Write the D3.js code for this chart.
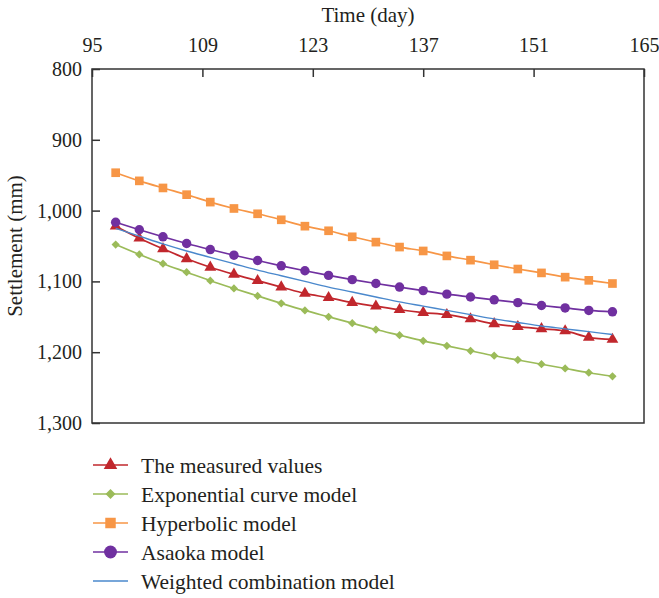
<!DOCTYPE html>
<html><head><meta charset="utf-8">
<script src="https://cdn.jsdelivr.net/npm/d3@7"></script>
<style>body{margin:0;background:#fff}svg text{font-family:"Liberation Serif","Times New Roman","DejaVu Serif",serif;fill:#231f20}</style>
</head><body><svg id="c" width="659" height="598"></svg>
<script>
const days = [98,101,104,107,110,113,116,119,122,125,128,131,134,137,140,143,146,149,152,155,158,161];
const measured = [1022,1039,1054,1068,1080,1090,1099,1108,1117,1123,1130,1135,1140,1144,1147,1153,1160,1164,1167,1170,1179,1182];
const exponential = [1048,1062,1075,1087,1099,1110,1120.5,1131,1141,1150,1159,1168,1176,1184,1191,1198,1205,1211,1217,1223,1229,1234];
const hyperbolic = [946.5,958,968,977.5,988,997,1004.5,1013,1022,1028.5,1037,1044.5,1051.5,1057,1064,1070,1076.5,1082.5,1088,1094,1098.5,1103];
const asaoka = [1016.5,1027,1037,1046.5,1055,1063,1070.5,1078,1085,1091.5,1097.5,1103,1108,1113,1118,1122,1126,1130,1134,1137.5,1141,1143];
const weighted = [1025,1036,1047,1057,1066,1075,1084,1092,1100,1108,1115,1122,1129,1135,1141,1147,1153,1158,1163,1167,1171,1175];
const xTicks = [95,109,123,137,151,165];
const yTicks = [800,900,1000,1100,1200,1300];
const seriesNames = ["The measured values","Exponential curve model","Hyperbolic model","Asaoka model","Weighted combination model"];

const series = [
  {name:seriesNames[0], vals:measured, color:"#c1272d", sym:d3.symbolTriangle, size:60, lsize:80, rot:0},
  {name:seriesNames[1], vals:exponential, color:"#9bbb59", sym:d3.symbolSquare, size:34, lsize:50, rot:45},
  {name:seriesNames[2], vals:hyperbolic, color:"#f79646", sym:d3.symbolSquare, size:75, lsize:110, rot:0},
  {name:seriesNames[3], vals:asaoka, color:"#7030a0", sym:d3.symbolCircle, size:70, lsize:130, rot:0},
  {name:seriesNames[4], vals:weighted, color:"#4a88cc", sym:null}
];

const svg = d3.select("#c");
const L=92,R=644,T=69,B=423;
const x = d3.scaleLinear().domain([95,165]).range([L,R]);
const y = d3.scaleLinear().domain([800,1300]).range([T,B]);

svg.append("rect").attr("x",L).attr("y",T).attr("width",R-L).attr("height",B-T)
  .attr("fill","none").attr("stroke","#333").attr("stroke-width",1.5);

const xa = svg.append("g").attr("transform",`translate(0,${T})`)
  .call(d3.axisTop(x).tickValues(xTicks).tickSize(-8).tickPadding(17).tickFormat(d3.format("d")));
const ya = svg.append("g").attr("transform",`translate(${L},0)`)
  .call(d3.axisLeft(y).tickValues(yTicks).tickSize(-8).tickPadding(10).tickFormat(d3.format(",")));
[xa,ya].forEach(a=>{a.attr("font-family",null).attr("font-size",null);
  a.select(".domain").remove();
  a.selectAll("line").attr("stroke","#333").attr("stroke-width",1.5);
  a.selectAll("text").attr("font-size",20).attr("fill","#231f20");});

svg.append("text").attr("x",(L+R)/2).attr("y",22).attr("text-anchor","middle").attr("font-size",21).text("Time (day)");
svg.append("text").attr("transform",`translate(22,${(T+B)/2}) rotate(-90)`).attr("text-anchor","middle").attr("font-size",21).text("Settlement (mm)");

const line = d3.line().x((d,i)=>x(days[i])).y(d=>y(d)).curve(d3.curveMonotoneX);
series.forEach(s=>{
  svg.append("path").datum(s.vals).attr("d",line).attr("fill","none").attr("stroke",s.color).attr("stroke-width",s.sym?1.7:1.4);
  if(s.sym){
    svg.selectAll(null).data(s.vals).enter().append("path")
      .attr("d",d3.symbol().type(s.sym).size(s.size))
      .attr("transform",(d,i)=>`translate(${x(days[i])},${y(d)}) rotate(${s.rot})`).attr("fill",s.color);
  }
});

const lg = svg.append("g");
series.forEach((s,i)=>{
  const yy = 465 + i*29;
  lg.append("line").attr("x1",93).attr("x2",128).attr("y1",yy).attr("y2",yy).attr("stroke",s.color).attr("stroke-width",1.5);
  if(s.sym) lg.append("path").attr("d",d3.symbol().type(s.sym).size(s.lsize)).attr("transform",`translate(110.5,${yy}) rotate(${s.rot})`).attr("fill",s.color);
  lg.append("text").attr("x",141).attr("y",yy).attr("dy","0.35em").attr("font-size",21.5).text(s.name);
});
</script></body></html>
